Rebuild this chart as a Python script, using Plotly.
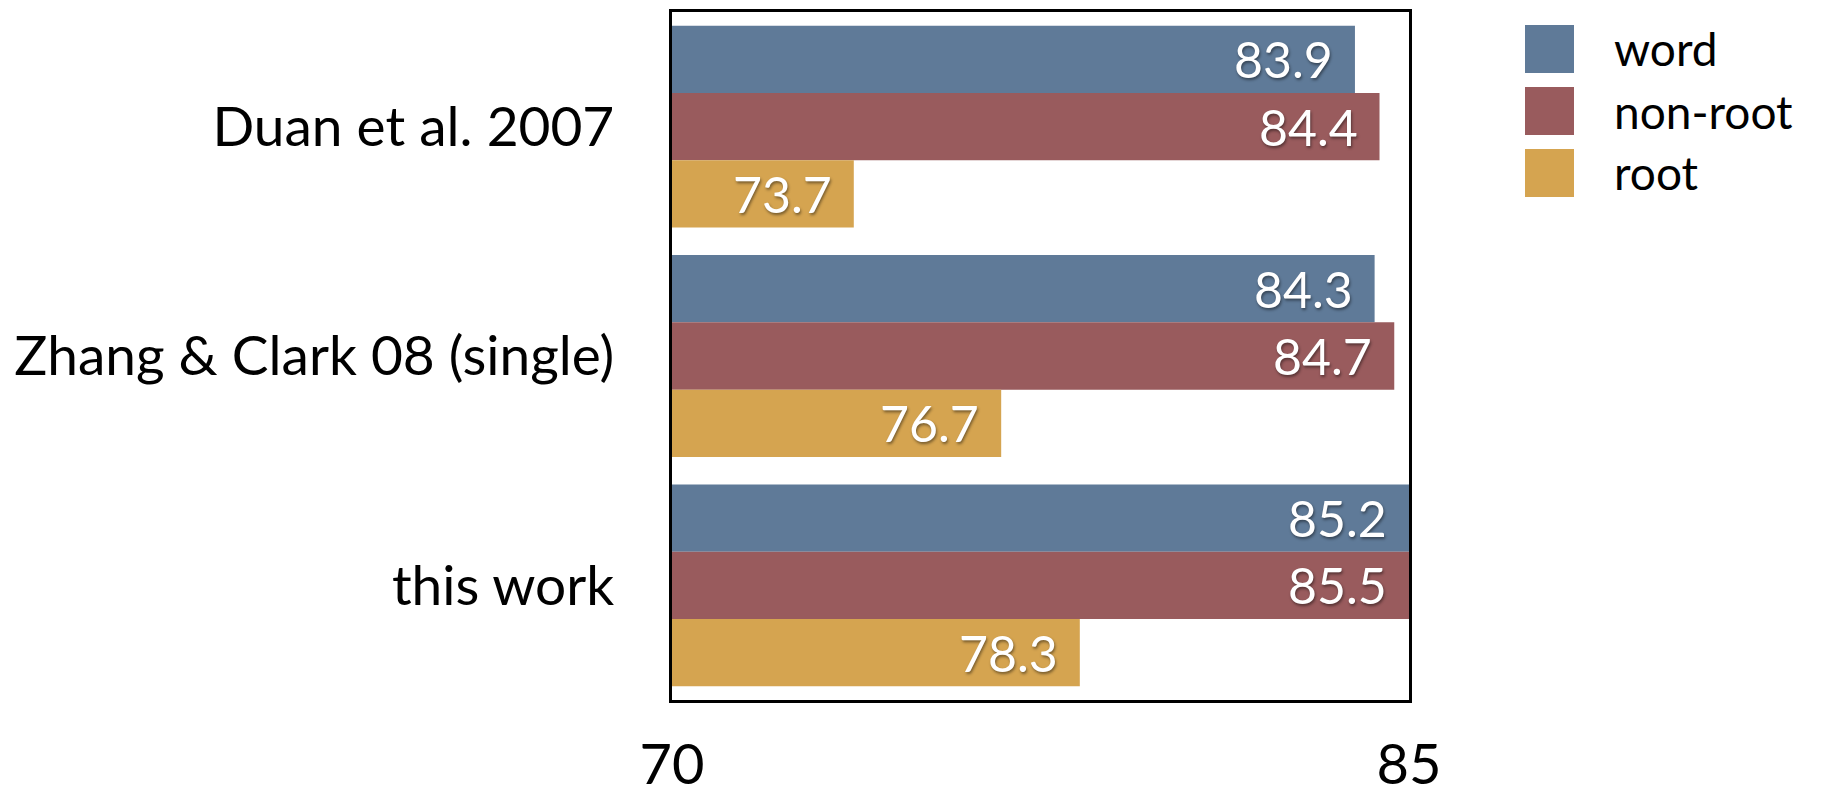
import plotly.graph_objects as go

# Parsing accuracy by system
systems = ["Duan et al. 2007", "Zhang & Clark 08 (single)", "this work"]
series_names = ["word", "non-root", "root"]
word_acc = [83.9, 84.3, 85.2]
nonroot_acc = [84.4, 84.7, 85.5]
root_acc = [73.7, 76.7, 78.3]
x_ticks = [70, 85]
x_range = [70, 85]

colors = ["#5F7A98", "#995B5D", "#D5A450"]
FONT = "Lato"
BARGAP = 0.12

W, H = 1826, 785
L, R, T, B = 672, 1409, 12, 700  # plot area in pixels


def px(x):
    return (x - L) / (R - L)


def py(y):
    return (B - y) / (B - T)


fig = go.Figure()
all_series = [word_acc, nonroot_acc, root_acc]
n_series = len(all_series)
slot = (1 - BARGAP) / n_series

for j, (name, vals, col) in enumerate(zip(series_names, all_series, colors)):
    fig.add_trace(go.Bar(
        y=systems, x=vals, orientation="h", name=name,
        marker=dict(color=col, line=dict(width=0)),
        showlegend=False, hoverinfo="x+name",
    ))
    # value labels, right-aligned inside the visible part of each bar
    for i, v in enumerate(vals):
        fig.add_annotation(
            x=min(v, x_range[1]), y=i + (j - (n_series - 1) / 2) * slot,
            xref="x", yref="y", text=f"{v:.1f}", showarrow=False,
            xanchor="right", yanchor="middle", xshift=-20,
            font=dict(family=FONT, size=50, color="white",
                      shadow="1px 2px 3px rgba(0,0,0,0.45)"),
        )

# Legend: colour swatches with labels
for i, (name, col) in enumerate(zip(series_names, colors)):
    cy = 49 + i * 62
    fig.add_shape(type="rect", xref="paper", yref="paper",
                  x0=px(1525), x1=px(1574), y0=py(cy + 24), y1=py(cy - 24),
                  fillcolor=col, line=dict(width=0))
    fig.add_annotation(xref="paper", yref="paper", x=px(1612), y=py(cy),
                       text=name, showarrow=False, xanchor="left", yanchor="middle",
                       font=dict(family=FONT, size=46, color="black"))

fig.update_layout(
    width=W, height=H,
    margin=dict(l=L, r=W - R, t=T, b=H - B, autoexpand=False),
    paper_bgcolor="white", plot_bgcolor="white",
    barmode="group", bargap=BARGAP, bargroupgap=0,
)
fig.update_xaxes(
    range=x_range, tickvals=x_ticks, ticktext=[str(t) for t in x_ticks],
    showgrid=False, zeroline=False,
    showline=True, linecolor="black", linewidth=2.5, mirror=True,
    ticks="", ticklabelstandoff=14,
    tickfont=dict(family=FONT, size=56, color="black"),
    automargin=False,
)
fig.update_yaxes(
    autorange="reversed", categoryorder="array", categoryarray=systems,
    showgrid=False, zeroline=False,
    showline=True, linecolor="black", linewidth=2.5, mirror=True,
    ticks="", ticklabelstandoff=44,
    tickfont=dict(family=FONT, size=55, color="black"),
    automargin=False,
)

fig.write_html("out.html")
